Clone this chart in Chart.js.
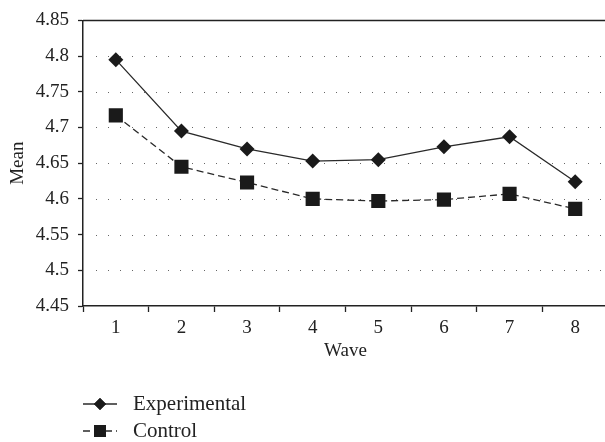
<!DOCTYPE html>
<html>
<head>
<meta charset="utf-8">
<script src="https://cdn.jsdelivr.net/npm/chart.js@4"></script>
<style>
  html, body { margin: 0; padding: 0; background: #fff; overflow: hidden; }
  #wrap { width: 605px; height: 442px; overflow: hidden; }
</style>
</head>
<body>
<!-- canvas is a few px wider than the window: the plot box runs off the right edge like the original -->
<div id="wrap"><canvas id="meanChart" width="608" height="442"></canvas></div>
<script>
// data
const waves = ['1', '2', '3', '4', '5', '6', '7', '8'];
const experimental = [4.795, 4.695, 4.670, 4.653, 4.655, 4.673, 4.687, 4.624];
const control = [4.717, 4.645, 4.623, 4.600, 4.597, 4.599, 4.607, 4.586];
const yTicks = [4.45, 4.5, 4.55, 4.6, 4.65, 4.7, 4.75, 4.8, 4.85];

const serif = '"Liberation Serif", "DejaVu Serif", serif';
const ink = '#222';

// dotted grid lines + box frame
const frame = {
    id: 'frame',
    beforeDatasetsDraw(chart) {
        const c = chart.ctx, a = chart.chartArea, y = chart.scales.y;
        c.save();
        c.strokeStyle = '#666';
        c.lineWidth = 1;
        c.setLineDash([1, 11]);
        yTicks.slice(1, -1).forEach(v => {
            const py = Math.round(y.getPixelForValue(v)) + 0.5;
            c.beginPath();
            c.moveTo(a.left + 13, py);
            c.lineTo(a.right, py);
            c.stroke();
        });
        c.setLineDash([]);
        c.strokeStyle = ink;
        c.lineWidth = 1.5;
        c.beginPath();
        c.moveTo(a.left, a.top);
        c.lineTo(a.right, a.top);
        c.lineTo(a.right, a.bottom);
        c.stroke();
        c.restore();
    }
};

// vertical legend under the chart
const stackLegend = {
    id: 'stackLegend',
    afterDraw(chart) {
        const c = chart.ctx;
        const rows = [404, 431];
        chart.data.datasets.forEach((ds, i) => {
            const yy = rows[i];
            c.save();
            c.strokeStyle = ds.borderColor;
            c.lineWidth = ds.borderWidth;
            c.setLineDash(ds.borderDash || []);
            c.beginPath();
            c.moveTo(83, yy);
            c.lineTo(117, yy);
            c.stroke();
            c.setLineDash([]);
            Chart.helpers.drawPoint(c, {
                pointStyle: ds.pointStyle,
                radius: ds.legendRadius,
                rotation: 0,
                borderWidth: 0
            }, 100, yy);
            c.fillStyle = ds.pointBackgroundColor;
            c.fill();
            c.fillStyle = ink;
            c.font = '21px ' + serif;
            c.textBaseline = 'middle';
            c.fillText(ds.label, 133, yy);
            c.restore();
        });
    }
};

const ctx = document.getElementById('meanChart').getContext('2d');

const meanChart = new Chart(ctx, {
    type: 'line',
    data: {
        labels: waves,
        datasets: [{
            label: 'Experimental',
            data: experimental,
            borderColor: '#2a2a2a',
            borderWidth: 1.3,
            pointStyle: 'rectRot',
            pointRadius: 7.5,
            legendRadius: 6,
            pointBackgroundColor: '#1a1a1a',
            pointBorderColor: '#1a1a1a',
            pointBorderWidth: 0,
            tension: 0
        }, {
            label: 'Control',
            data: control,
            borderColor: '#2a2a2a',
            borderWidth: 1.3,
            borderDash: [7, 4],
            pointStyle: 'rect',
            pointRadius: 10,
            legendRadius: 8.5,
            pointBackgroundColor: '#1a1a1a',
            pointBorderColor: '#1a1a1a',
            pointBorderWidth: 0,
            tension: 0
        }]
    },
    options: {
        responsive: false,
        animation: false,
        events: [],
        layout: { autoPadding: false, padding: { top: 17, right: 0, left: 0, bottom: 76 } },
        plugins: {
            legend: { display: false },
            tooltip: { enabled: false }
        },
        scales: {
            x: {
                offset: true,
                grid: {
                    offset: true,
                    drawOnChartArea: false,
                    tickLength: 6,
                    tickColor: ink,
                    tickWidth: 1.3
                },
                border: { color: ink, width: 1.5 },
                ticks: {
                    color: ink,
                    padding: 5,
                    maxRotation: 0,
                    font: { family: serif, size: 19 }
                },
                title: {
                    display: true,
                    text: 'Wave',
                    color: ink,
                    padding: { top: 0, bottom: 4 },
                    font: { family: serif, size: 19 }
                },
                afterFit(s) { s.height = 60; }
            },
            y: {
                min: 4.45,
                max: 4.85,
                afterBuildTicks(s) { s.ticks = yTicks.map(v => ({ value: v })); },
                grid: {
                    drawOnChartArea: false,
                    tickLength: 5,
                    tickColor: ink,
                    tickWidth: 1.3
                },
                border: { color: ink, width: 1.5 },
                ticks: {
                    color: ink,
                    padding: 9,
                    font: { family: serif, size: 19 },
                    callback: v => String(Math.round(v * 100) / 100)
                },
                title: {
                    display: true,
                    text: 'Mean',
                    color: ink,
                    padding: { top: 7, bottom: 0 },
                    font: { family: serif, size: 19 }
                },
                afterFit(s) { s.width = 83; }
            }
        }
    },
    plugins: [frame, stackLegend]
});
</script>
</body>
</html>
